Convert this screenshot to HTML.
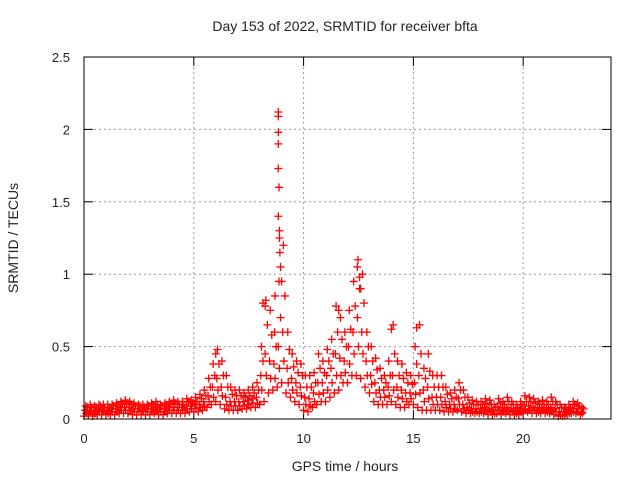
<!DOCTYPE html>
<html><head><meta charset="utf-8"><style>
html,body{margin:0;padding:0;background:#fff}
svg{display:block;font-family:"Liberation Sans",sans-serif}
</style></head><body>
<svg id="chart" width="640" height="480" viewBox="0 0 640 480">
<rect x="0" y="0" width="640" height="480" fill="#fff"/>
<text x="345" y="31" text-anchor="middle" font-size="14" fill="#222">Day 153 of 2022, SRMTID for receiver bfta</text>
<text x="0" y="0" transform="translate(18,238) rotate(-90)" text-anchor="middle" font-size="14" fill="#222">SRMTID / TECUs</text>
<text x="345" y="471" text-anchor="middle" font-size="14" fill="#222">GPS time / hours</text>
<g id="grid"></g>
<g id="axes"></g>
<g id="marks"></g>
<rect x="84" y="57" width="527" height="362" fill="none" stroke="#000" stroke-width="1"/>
</svg>
<script>
const xTicks=[0,5,10,15,20];
const yTicks=[0,0.5,1,1.5,2,2.5];
const yTickLabels=["0","0.5","1","1.5","2","2.5"];
const t0=0, tStep=0.2;
const hiVals=[.09,.1,.09,.1,.1,.1,.1,.11,.12,.13,.12,.11,.1,.1,.1,.11,.12,.1,.11,.12,.13,.12,.12,.14,.13,
.15,.17,.2,.28,.38,
.48,.4,.3,.22,.2,.2,.18,.2,.22,.25,
.5,.82,.75,.6,.95,
1.2,.6,.45,.4,.38,
.3,.3,.32,.45,.4,
.48,.55,.78,.7,.6,
.75,.95,1.1,1.0,.6,
.5,.42,.35,.3,.4,
.65,.4,.38,.32,.3,
.5,.65,.35,.45,.3,
.3,.3,.22,.18,.2,
.25,.2,.15,.13,.12,
.12,.14,.13,.1,.14,
.12,.15,.12,.1,.12,
.16,.15,.14,.12,.13,
.12,.15,.12,.1,.08,
.1,.12,.11,.08];
const q3Vals=[.08,.08,.08,.09,.08,.08,.09,.09,.1,.11,.1,.09,.09,.08,.09,.09,.1,.09,.09,.1,.11,.1,.1,.12,.11,
.12,.14,.16,.22,.3,
.38,.3,.22,.17,.16,.16,.15,.16,.18,.2,
.4,.65,.58,.5,.7,
.85,.48,.36,.32,.3,
.22,.22,.25,.35,.32,
.4,.45,.6,.55,.5,
.62,.78,.9,.8,.5,
.4,.34,.28,.25,.3,
.45,.3,.28,.25,.24,
.38,.45,.28,.33,.22,
.22,.22,.17,.14,.15,
.2,.15,.11,.1,.1,
.1,.11,.1,.08,.11,
.1,.12,.1,.08,.1,
.12,.12,.11,.1,.1,
.1,.12,.1,.08,.07,
.08,.1,.09,.07];
const midVals=[.06,.06,.06,.07,.06,.06,.07,.07,.08,.08,.08,.07,.07,.06,.07,.07,.08,.07,.07,.08,.08,.08,.08,.09,.09,
.1,.1,.12,.16,.22,
.28,.22,.15,.12,.12,.12,.12,.13,.14,.15,
.3,.45,.4,.38,.5,
.6,.35,.28,.25,.22,
.15,.14,.18,.25,.25,
.3,.35,.45,.42,.4,
.5,.6,.7,.6,.4,
.3,.25,.2,.2,.22,
.3,.22,.2,.18,.18,
.25,.3,.2,.22,.15,
.15,.15,.12,.1,.1,
.14,.1,.08,.07,.07,
.07,.08,.07,.06,.08,
.07,.08,.07,.06,.07,
.09,.09,.08,.07,.08,
.07,.08,.07,.05,.05,
.06,.07,.07,.05];
const q1Vals=[.04,.05,.04,.05,.05,.04,.05,.05,.06,.06,.06,.05,.05,.05,.05,.05,.06,.05,.05,.06,.06,.06,.06,.07,.07,
.07,.08,.09,.12,.15,
.2,.16,.1,.09,.09,.09,.09,.1,.11,.11,
.2,.3,.28,.28,.35,
.4,.25,.2,.18,.16,
.1,.09,.12,.17,.18,
.2,.25,.3,.3,.32,
.38,.45,.5,.45,.3,
.24,.18,.15,.15,.16,
.2,.15,.14,.12,.14,
.17,.18,.12,.14,.1,
.1,.1,.08,.07,.07,
.1,.07,.06,.05,.05,
.05,.06,.05,.04,.06,
.05,.06,.05,.04,.05,
.06,.07,.06,.05,.06,
.05,.06,.05,.03,.03,
.04,.05,.05,.04];
const loVals=[.02,.03,.02,.03,.03,.03,.03,.03,.04,.04,.04,.03,.03,.03,.03,.03,.04,.03,.03,.04,.04,.04,.04,.04,.05,
.05,.05,.06,.08,.1,
.12,.1,.07,.06,.06,.06,.07,.07,.08,.08,
.1,.12,.18,.2,.22,
.25,.18,.15,.12,.1,
.06,.05,.08,.1,.12,
.12,.15,.18,.2,.25,
.25,.3,.3,.28,.22,
.18,.12,.1,.1,.1,
.12,.1,.08,.08,.1,
.1,.08,.06,.06,.06,
.06,.06,.05,.05,.05,
.06,.05,.04,.04,.04,
.04,.04,.03,.03,.04,
.03,.04,.03,.03,.03,
.04,.05,.04,.04,.04,
.04,.04,.03,.02,.02,
.03,.04,.04,.03];
const spikeTimes=[8.85,8.85,8.85,8.85,8.85,8.88,8.85,8.9,8.9,8.92,8.95,9.0,8.15,8.25,12.45,12.55,12.6,11.6,14.0,15.15,6.0,8.7];
const spikeVals=[2.12,2.09,1.98,1.9,1.73,1.6,1.4,1.3,1.25,1.15,1.05,0.95,0.8,0.78,1.05,0.98,0.9,0.75,0.62,0.63,0.45,0.85];

const X=v=>84+v*(527/24);
const Y=v=>419-v*(362/2.5);
const NS="http://www.w3.org/2000/svg";
function mk(tag,attrs,parent){const e=document.createElementNS(NS,tag);for(const k in attrs)e.setAttribute(k,attrs[k]);parent.appendChild(e);return e;}
const grid=document.getElementById('grid'),axes=document.getElementById('axes'),marks=document.getElementById('marks');
xTicks.forEach(v=>{
  if(v>0){const g=mk('line',{x1:X(v),x2:X(v),y1:57,y2:419,stroke:'#999','stroke-dasharray':'2,3'},grid);
  
  }
  mk('line',{x1:X(v),x2:X(v),y1:419,y2:410,stroke:'#000'},axes);
  mk('line',{x1:X(v),x2:X(v),y1:57,y2:66,stroke:'#000'},axes);
  const t=mk('text',{x:X(v),y:443,'text-anchor':'middle','font-size':'13',fill:'#222'},axes);
  t.textContent=String(v);
  
  
});
yTicks.forEach((v,i)=>{
  if(v>0&&v<2.5){const g=mk('line',{x1:84,x2:611,y1:Y(v),y2:Y(v),stroke:'#999','stroke-dasharray':'2,3'},grid);
  
  }
  mk('line',{x1:84,x2:93,y1:Y(v),y2:Y(v),stroke:'#000'},axes);
  mk('line',{x1:602,x2:611,y1:Y(v),y2:Y(v),stroke:'#000'},axes);
  const t=mk('text',{x:70,y:Y(v)+5,'text-anchor':'end','font-size':'13',fill:'#222'},axes);
  t.textContent=yTickLabels[i];
  
  
});
function cross(t,v){
  const x=X(t),y=Y(v);
  const p=mk('path',{d:`M${x-4},${y}H${x+4}M${x},${y-4}V${y+4}`,stroke:'#f00','stroke-width':'1.3',fill:'none'},marks);
  
  
}
const seriesList=[loVals,q1Vals,midVals,q3Vals,hiVals];
const offs=[0,0.1,0.05,0.15,0.08];
seriesList.forEach((arr,k)=>arr.forEach((v,i)=>cross(t0+i*tStep+offs[k],v)));
spikeTimes.forEach((t,i)=>cross(t,spikeVals[i]));
</script>
</body></html>
